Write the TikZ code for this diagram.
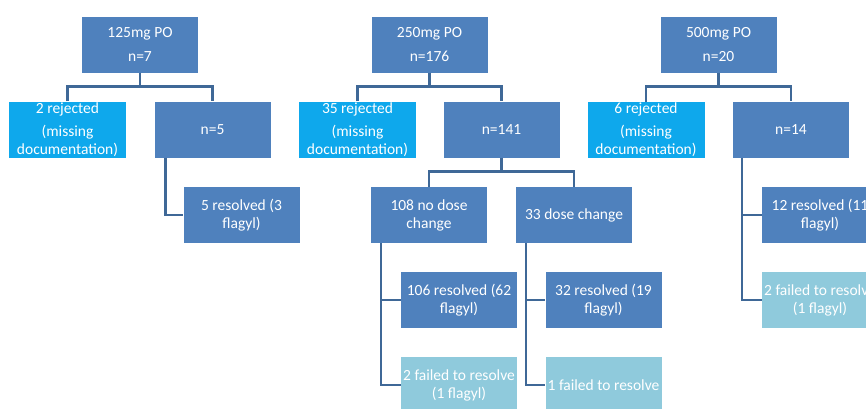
\documentclass[tikz,border=0pt]{standalone}
\usepackage{fontspec}
\setmainfont{Carlito}
\definecolor{dblue}{HTML}{4F81BD}
\definecolor{cyanb}{HTML}{0EA8EC}
\definecolor{paleb}{HTML}{8FCADC}
\definecolor{lnc}{HTML}{3F6897}
\tikzset{
  box/.style={rectangle, fill=dblue, text=white, minimum width=116pt, minimum height=56pt,
    inner sep=0pt, align=center, font=\fontsize{15.5}{18}\selectfont},
  rej/.style={box, fill=cyanb, minimum width=117pt},
  fail/.style={box, fill=paleb},
  conn/.style={draw=lnc, line width=2.6pt, line join=miter}
}
\begin{document}
\begin{tikzpicture}[x=1pt,y=-1pt]
\useasboundingbox (0,0) rectangle (866,408);
\clip (0,0) rectangle (866,408);
% top row
\node[box] (t1) at (140,44.5) {125mg PO\\[6pt]n=7};
\node[box] (t2) at (429.5,44.5) {250mg PO\\[6pt]n=176};
\node[box] (t3) at (718.5,44.5) {500mg PO\\[6pt]n=20};
% second row
\node[rej] (r1) at (67.5,129.5) {2 rejected\\[5pt](missing\\documentation)};
\node[box] (n5) at (212.5,129.5) {n=5};
\node[rej] (r2) at (357.5,129.5) {35 rejected\\[5pt](missing\\documentation)};
\node[box] (n141) at (501.5,129.5) {n=141};
\node[rej] (r3) at (646,130) {6 rejected\\[5pt](missing\\documentation)};
\node[box] (n14) at (791,129.5) {n=14};
% third row
\node[box] (res5) at (241.5,215) {5 resolved (3\\flagyl)};
\node[box] (nd108) at (429,215) {108 no dose\\change};
\node[box] (dc33) at (574,215) {33 dose change};
\node[box] (res12) at (820,215) {12 resolved (11\\flagyl)};
% fourth row
\node[box] (res106) at (459,300) {106 resolved (62\\flagyl)};
\node[box] (res32) at (603.5,300) {32 resolved (19\\flagyl)};
\node[fail] (f2b) at (820,300) {2 failed to resolve\\(1 flagyl)};
% fifth row
\node[fail] (f2) at (459,385) {2 failed to resolve\\(1 flagyl)};
\node[fail] (f1) at (603.5,385) {1 failed to resolve};
% connectors: top to second row
\draw[conn] (t1.south) -- ([yshift=-14pt]t1.south);
\draw[conn] (r1.north) |- ([yshift=-14pt]t1.south) -| (n5.north);
\draw[conn] (t2.south) -- ([yshift=-14pt]t2.south);
\draw[conn] (r2.north) |- ([yshift=-14pt]t2.south) -| (n141.north);
\draw[conn] (t3.south) -- ([yshift=-14pt]t3.south);
\draw[conn] (r3.north) |- ([yshift=-14pt]t3.south) -| (n14.north);
% n141 to third row
\draw[conn] (n141.south) -- ([yshift=-14pt]n141.south);
\draw[conn] (nd108.north) |- ([yshift=-14pt]n141.south) -| (dc33.north);
% side elbows
\draw[conn] ([xshift=11pt]n5.south west) |- (res5.west);
\draw[conn] ([xshift=10pt]nd108.south west) |- (f2.west);
\draw[conn] ([xshift=10pt]nd108.south west |- res106.west) -- (res106.west);
\draw[conn] ([xshift=10pt]dc33.south west) |- (f1.west);
\draw[conn] ([xshift=10pt]dc33.south west |- res32.west) -- (res32.west);
\draw[conn] ([xshift=9pt]n14.south west) |- (f2b.west);
\draw[conn] ([xshift=9pt]n14.south west |- res12.west) -- (res12.west);
\end{tikzpicture}
\end{document}
